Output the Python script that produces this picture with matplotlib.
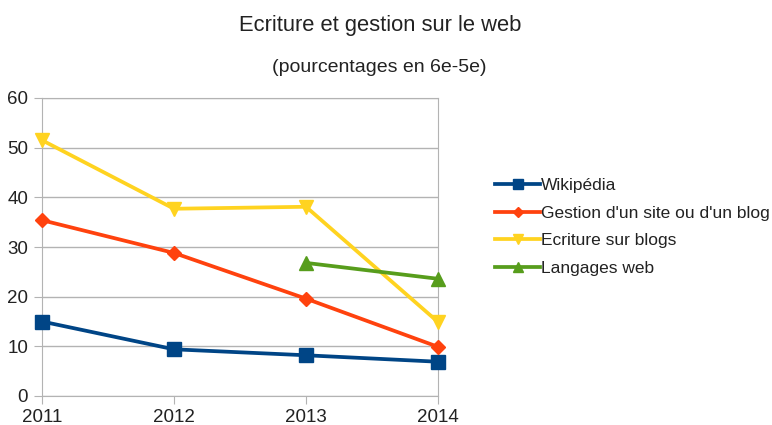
import matplotlib
matplotlib.use("Agg")
import matplotlib.pyplot as plt

plt.rcParams['font.family'] = ['Liberation Sans', 'DejaVu Sans']

years = ["2011", "2012", "2013", "2014"]
wikipedia = [15, 9.4, 8.2, 6.9]
gestion = [35.4, 28.8, 19.6, 9.9]
ecriture = [51.5, 37.7, 38.1, 14.9]
langages = [None, None, 26.8, 23.6]

series = [
    ("Wikipédia", wikipedia, "#004586", "s", 9.5),
    ("Gestion d'un site ou d'un blog", gestion, "#ff420e", "D", 7),
    ("Ecriture sur blogs", ecriture, "#ffd320", "v", 10),
    ("Langages web", langages, "#579d1c", "^", 10),
]

fig = plt.figure(figsize=(7.72, 4.25), dpi=100)
ax = fig.add_axes([42/772, 1-396/425, (438-42)/772, (396-98)/425])

x = list(range(len(years)))
for name, vals, color, marker, ms in series:
    xs = [xi for xi, v in zip(x, vals) if v is not None]
    ys = [v for v in vals if v is not None]
    ax.plot(xs, ys, color=color, marker=marker, markersize=ms, linewidth=2.7,
            label=name, clip_on=False, zorder=3)

ax.set_xlim(0, 3)
ax.set_ylim(0, 60)
ax.set_xticks(x)
ax.set_xticklabels(years)
ax.set_yticks(range(0, 61, 10))
ax.grid(True, axis='y', color="#b3b3b3", linewidth=1)
ax.set_axisbelow(True)
for s in ax.spines.values():
    s.set_color("#b3b3b3")
ax.tick_params(axis='both', colors="#b3b3b3", labelcolor="#222222", labelsize=13.5, length=6)
ax.tick_params(axis='x', pad=3)
ax.tick_params(axis='y', pad=4)

fig.text(380/772, 1-25/425, "Ecriture et gestion sur le web", ha='center', va='center',
         fontsize=15.8, color="#222222")
fig.text(379/772, 1-67/425, "(pourcentages en 6e-5e)", ha='center', va='center',
         fontsize=14, color="#222222")

leg = fig.legend(loc='center left', bbox_to_anchor=(495/772, 1-227/425), frameon=False,
                 fontsize=12.5, handlelength=2.6, handletextpad=0.05, labelspacing=0.73,
                 markerscale=0.7, borderpad=0, borderaxespad=0)
for t in leg.get_texts():
    t.set_color("#222222")

fig.savefig("out.png", dpi=100)
